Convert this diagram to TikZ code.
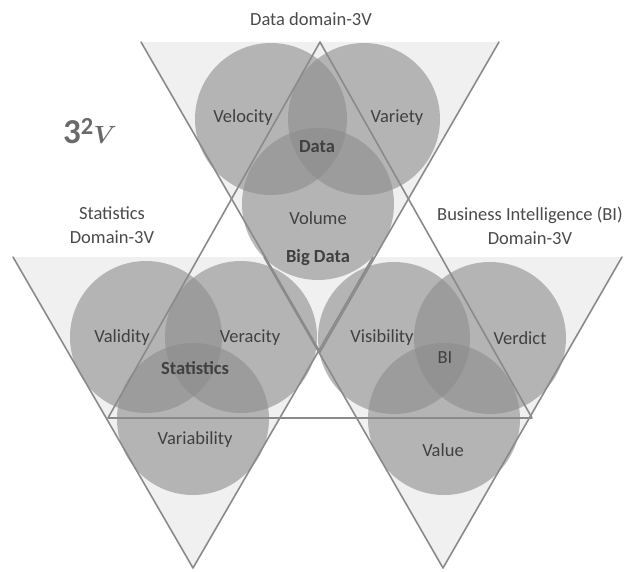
\documentclass[tikz,border=0pt]{standalone}
\usepackage{fontspec}
\setmainfont{Carlito}
\usepackage{bm}
\definecolor{triFill}{HTML}{F0F0F0}
\definecolor{lineGray}{HTML}{8A8A8A}
\definecolor{circGray}{HTML}{8C8C8C}
\definecolor{textGray}{HTML}{404040}
\definecolor{titleGray}{HTML}{4A4A4A}
\definecolor{mathGray}{HTML}{6A6A6A}
\tikzset{
  trifill/.style={fill=triFill, draw=none},
  edgeline/.style={draw=lineGray, line width=1.6pt, line join=round, line cap=round},
  venn/.style={fill=circGray, fill opacity=0.6, draw=none},
  lbl/.style={font=\fontsize{18.5}{22}\selectfont, text=textGray, inner sep=0pt, align=center},
  blbl/.style={font=\fontsize{18.5}{22}\selectfont\bfseries, text=textGray, inner sep=0pt, align=center},
  title/.style={font=\fontsize{18.5}{23.5}\selectfont, text=titleGray, inner sep=0pt, align=center},
}
\begin{document}
\begin{tikzpicture}[x=1pt,y=-1pt]
\useasboundingbox (0,0) rectangle (624,571);
% inverted triangles
\coordinate (TA) at (141,42);  \coordinate (TB) at (499,42);  \coordinate (TC) at (320,352);
\coordinate (LA) at (13,257);  \coordinate (LB) at (373,257); \coordinate (LC) at (193,568);
\coordinate (RA) at (264,257); \coordinate (RB) at (622,257); \coordinate (RC) at (443,568);
% big upright triangle
\coordinate (BA) at (320,42);  \coordinate (BL) at (108,418); \coordinate (BR) at (532,418);

\fill[trifill] (TA) -- (TB) -- (TC) -- cycle;
\fill[trifill] (LA) -- (LB) -- (LC) -- cycle;
\fill[trifill] (RA) -- (RB) -- (RC) -- cycle;

% circles
\fill[venn] (271,119) circle[radius=76];
\fill[venn] (364,119) circle[radius=76];
\fill[venn] (318,204) circle[radius=76];
\fill[venn] (146,337) circle[radius=76];
\fill[venn] (241,337) circle[radius=76];
\fill[venn] (193,419) circle[radius=76];
\fill[venn] (394,338) circle[radius=76];
\fill[venn] (490,338) circle[radius=76];
\fill[venn] (444,419) circle[radius=76];

% outlines
\draw[edgeline] (TA) -- (TC) -- (TB);
\draw[edgeline] (LA) -- (LC) -- (LB);
\draw[edgeline] (RA) -- (RC) -- (RB);
\draw[edgeline] (BA) -- (BL) -- (BR) -- cycle;

% titles
\node[title] (tdata) at (311,19) {Data domain-3V};
\node[title] (tstat) at (112,225) {Statistics\\Domain-3V};
\node[title] (tbi) at (530,226) {Business Intelligence (BI)\\Domain-3V};
\node[text=mathGray, inner sep=0pt, font=\fontsize{35}{40}\selectfont] (tv) at (90,131) {$\mathbf{3}^{\mathbf{2}}\bm{V}$};

% circle labels
\node[lbl] (velocity) at (243,118) {Velocity};
\node[lbl] (variety) at (397,118) {Variety};
\node[blbl] (data) at (317,147) {Data};
\node[lbl] (volume) at (318,218) {Volume};
\node[blbl] (bigdata) at (318,258) {Big Data};
\node[lbl] (validity) at (122,338) {Validity};
\node[lbl] (veracity) at (250,338) {Veracity};
\node[blbl] (statistics) at (195,368) {Statistics};
\node[lbl] (variability) at (195,440) {Variability};
\node[lbl] (visibility) at (382,338) {Visibility};
\node[lbl] (verdict) at (520,338) {Verdict};
\node[lbl] (bi) at (445,358) {BI};
\node[lbl] (value) at (443,450) {Value};
\end{tikzpicture}
\end{document}
